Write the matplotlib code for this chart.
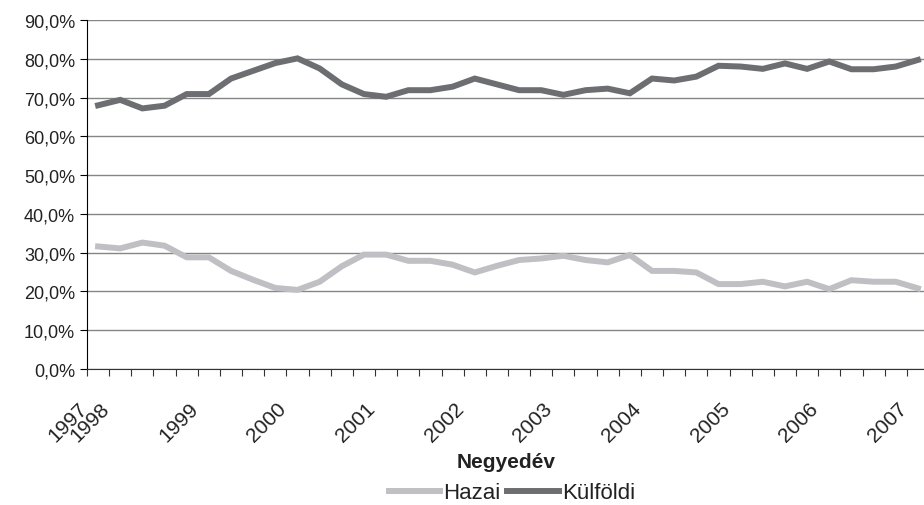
import matplotlib.pyplot as plt
import matplotlib.transforms as mtransforms
from matplotlib.ticker import FuncFormatter

plt.rcParams['font.family'] = ['Liberation Sans', 'DejaVu Sans']

# Negyedéves adatok: 1997 Q4 - 2007 Q1 (38 negyedév)
hazai = [31.6, 31.1, 32.6, 31.8, 28.8, 28.8, 25.3, 23.0, 20.9, 20.4,
         22.5, 26.5, 29.5, 29.5, 27.9, 27.9, 26.9, 24.9, 26.6, 28.1,
         28.5, 29.2, 28.1, 27.5, 29.4, 25.3, 25.3, 24.9, 21.9, 21.9,
         22.5, 21.3, 22.5, 20.6, 22.9, 22.5, 22.5, 20.8]
kulfoldi = [68.0, 69.4, 67.2, 67.9, 70.9, 70.9, 74.9, 76.9, 78.9, 80.1,
            77.5, 73.4, 70.9, 70.2, 71.9, 71.9, 72.8, 74.9, 73.4, 71.9,
            71.9, 70.7, 71.9, 72.3, 71.1, 74.9, 74.4, 75.4, 78.2, 78.0,
            77.4, 78.8, 77.4, 79.3, 77.3, 77.3, 78.0, 79.7]
ev_cimkek = ['1997', '1998', '1999', '2000', '2001', '2002', '2003',
             '2004', '2005', '2006', '2007']
ev_pozicio = [0, 1, 5, 9, 13, 17, 21, 25, 29, 33, 37]

x = list(range(len(hazai)))

fig = plt.figure(figsize=(9.24, 5.06), dpi=100)
# a rajzterület jobb széle kicsit túlnyúlik a képen
ax = fig.add_axes([87 / 924, 136 / 506, 842 / 924, 349 / 506])

ax.plot(x, hazai, color='#c0c0c4', lw=4.3, solid_joinstyle='miter', label='Hazai', zorder=3)
ax.plot(x, kulfoldi, color='#6d6e71', lw=4.3, solid_joinstyle='miter', label='Külföldi', zorder=3)

ax.set_xlim(-0.5, len(x) - 0.5)
ax.set_ylim(0, 90)
ax.set_yticks(range(0, 91, 10))
ax.yaxis.set_major_formatter(FuncFormatter(lambda v, p: f'{v:.1f}%'.replace('.', ',')))
ax.grid(axis='y', color='#858585', lw=1)
ax.set_axisbelow(True)

for s in ['top', 'right']:
    ax.spines[s].set_visible(False)
ax.spines['left'].set_color('black')
ax.spines['bottom'].set_color('#333333')

# osztásjelek a kategóriahatárokon, feliratok a középen
ax.set_xticks([i - 0.5 for i in range(len(x) + 1)])
ax.set_xticklabels([])
ax.set_xticks(ev_pozicio, minor=True)
ax.set_xticklabels(ev_cimkek, minor=True, rotation=45, ha='right', va='center',
                   rotation_mode='anchor', fontsize=15, color='#222222')
ax.tick_params(axis='x', which='major', length=5, direction='out', color='#333333')
ax.tick_params(axis='x', which='minor', length=0, pad=26)
ax.tick_params(axis='y', length=5, direction='out', labelsize=13, labelcolor='#222222')

offset = mtransforms.ScaledTranslation(-14 / 100, 0, fig.dpi_scale_trans)
for lab in ax.xaxis.get_minorticklabels():
    lab.set_transform(lab.get_transform() + offset)

fig.text(506 / 924, 1 - 463 / 506, 'Negyedév', ha='center', va='center',
         fontsize=15, fontweight='bold', color='#222222')

fig.legend(loc='center', bbox_to_anchor=(512 / 924, 1 - 494 / 506), ncol=2,
           frameon=False, fontsize=16, handlelength=2.3, handletextpad=0.15,
           columnspacing=0.3, labelcolor='#222222')

plt.savefig('out.png', dpi=100)
